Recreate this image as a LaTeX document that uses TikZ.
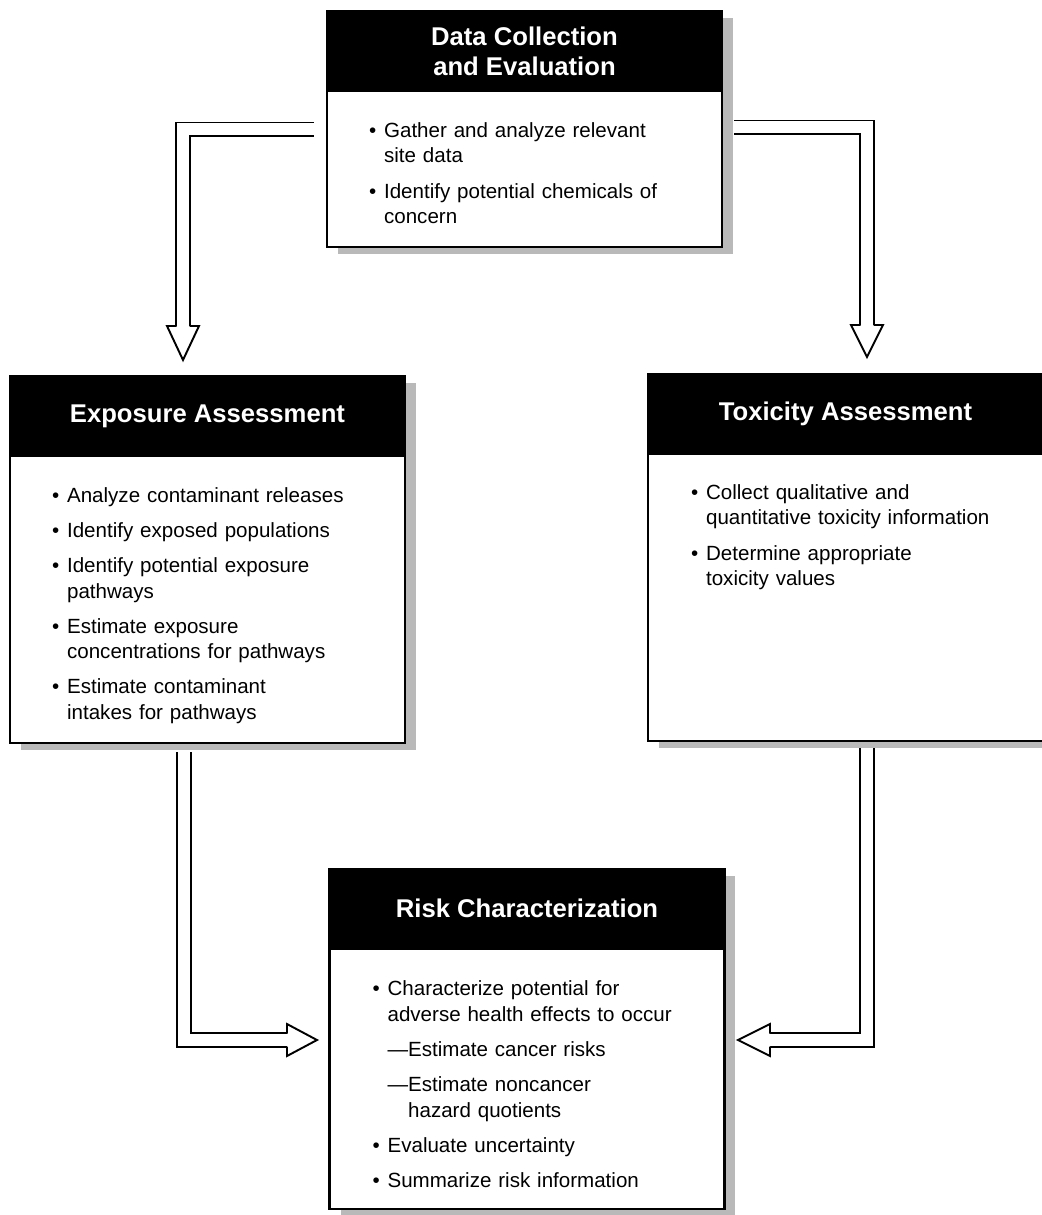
\documentclass[tikz,border=0pt]{standalone}
\usepackage{fontspec}
\setmainfont{Liberation Sans}
\usetikzlibrary{positioning,calc,shadows}

\newcommand{\headfont}{\fontsize{14.6}{17}\selectfont\bfseries}
\newcommand{\bodyfont}{\fontsize{11.7}{14.5}\selectfont}
% list items: bullet and dash
\newcommand{\bitem}[1]{\hangindent=8.5pt\hangafter=1\noindent\makebox[8.5pt][l]{\textbullet}#1\par\vspace{5.5pt}}
\newcommand{\ditem}[1]{\setbox0\hbox{---}\hangindent=\dimexpr8.5pt+\wd0\relax\hangafter=1\noindent\hspace*{8.5pt}---#1\par\vspace{5.5pt}}

\tikzset{
  boxshadow/.style={drop shadow={shadow xshift=0.22cm, shadow yshift=-0.14cm, fill=gray!55, opacity=1}},
  box/.style={fill=white, draw=black, line width=1.4pt, minimum width=7.9cm, inner sep=0pt, boxshadow},
  head/.style={fill=black, draw=black, line width=1.4pt, text=white, font=\headfont,
    minimum width=7.9cm, minimum height=1.6cm, inner sep=0pt, align=center},
  bodytext/.style={anchor=base west, inner sep=0pt, text width=6.4cm, font=\bodyfont},
  shaft/.style={draw=black, double=white, double distance=6.8pt, line width=1.1pt},
  tip/.style={draw=black, fill=white, line width=1.1pt, line join=miter}
}

\begin{document}
\begin{tikzpicture}[x=0.02cm, y=-0.02cm]
    \useasboundingbox (0,0) rectangle (1042,1215);

    % Boxes with black title bars
    \node[box, minimum height=4.72cm, anchor=north] (dce) at (524.5,10) {};
    \node[head, anchor=north] (dceh) at (dce.north) {Data Collection\\and Evaluation};
    \node[box, minimum height=7.34cm, anchor=north] (expo) at (207.5,375) {};
    \node[head, anchor=north] (expoh) at (expo.north) {Exposure Assessment};
    \node[box, minimum height=7.34cm, anchor=north] (tox) at (845.5,373) {};
    \node[head, anchor=north] (toxh) at (tox.north) {Toxicity Assessment};
    \node[box, minimum height=6.81cm, anchor=north] (risk) at (527,867.5) {};
    \node[head, anchor=north] (riskh) at (risk.north) {Risk Characterization};

    % Box texts
    \node[bodytext] (dcet) at ($(dceh.south west)+(43,45)$) {%
      \bitem{Gather and analyze relevant\newline site data}
      \bitem{Identify potential chemicals of\newline concern}};
    \node[bodytext] (expot) at ($(expoh.south west)+(43,45)$) {%
      \bitem{Analyze contaminant releases}
      \bitem{Identify exposed populations}
      \bitem{Identify potential exposure\newline pathways}
      \bitem{Estimate exposure\newline concentrations for pathways}
      \bitem{Estimate contaminant\newline intakes for pathways}};
    \node[bodytext] (toxt) at ($(toxh.south west)+(44,44)$) {%
      \bitem{Collect qualitative and\newline quantitative toxicity information}
      \bitem{Determine appropriate\newline toxicity values}};
    \node[bodytext] (riskt) at ($(riskh.south west)+(44,46)$) {%
      \bitem{Characterize potential for\newline adverse health effects to occur}
      \ditem{Estimate cancer risks}
      \ditem{Estimate noncancer\newline hazard quotients}
      \bitem{Evaluate uncertainty}
      \bitem{Summarize risk information}};

    % Hollow arrows
    \coordinate (a1) at (183,326);
    \draw[shaft] ($(dceh.south west)+(-12,37)$) -| (a1);
    \draw[tip] ($(a1)+(-6.5,0)$) -- ++(-9.5,0) -- ++(16,34) -- ++(16,-34) -- ++(-9.5,0);

    \coordinate (a2) at (867,325);
    \draw[shaft] ($(dceh.south east)+(11,35)$) -| (a2);
    \draw[tip] ($(a2)+(-6.5,0)$) -- ++(-9.5,0) -- ++(16,32) -- ++(16,-32) -- ++(-9.5,0);

    \coordinate (a3) at (287,1040);
    \draw[shaft] ($(expo.south west)+(175,8)$) |- (a3);
    \draw[tip] ($(a3)+(0,-6.5)$) -- ++(0,-9.5) -- ++(30,16) -- ++(-30,16) -- ++(0,-9.5);

    \coordinate (a4) at (770,1040);
    \draw[shaft] ($(tox.south west)+(220.5,6)$) |- (a4);
    \draw[tip] ($(a4)+(0,-6.5)$) -- ++(0,-9.5) -- ++(-32,16) -- ++(32,16) -- ++(0,-9.5);
  \end{tikzpicture}
\end{document}
